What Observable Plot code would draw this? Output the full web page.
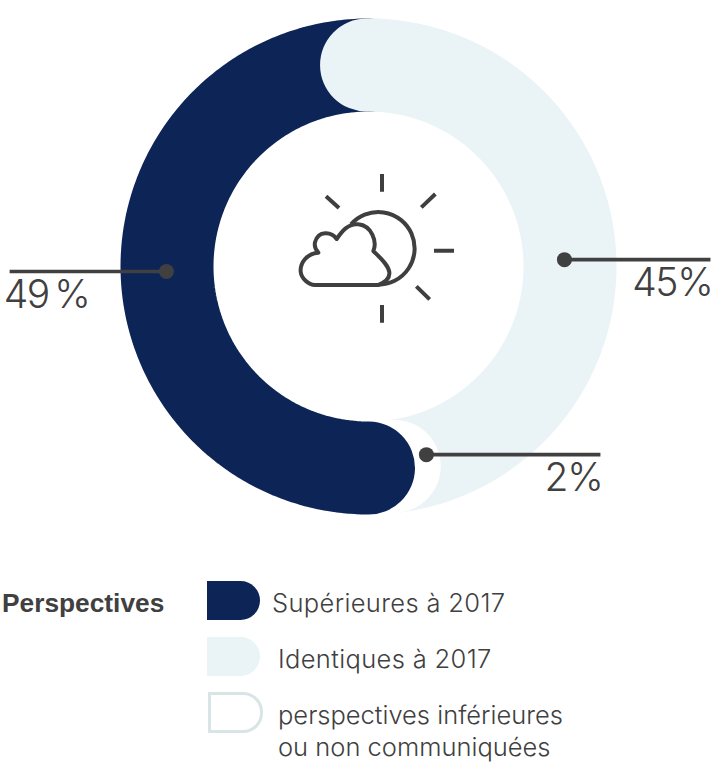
<!DOCTYPE html>
<html lang="fr">
<head>
<meta charset="utf-8">
<script src="https://cdn.jsdelivr.net/npm/d3@7"></script>
<script src="https://cdn.jsdelivr.net/npm/@observablehq/plot@0.6"></script>
<style>
  html,body{margin:0;padding:0;background:#fff;}
  #page{position:relative;width:716px;height:766px;overflow:hidden;font-family:"Inter","Liberation Sans",sans-serif;color:#404040;}
  #legend{position:absolute;left:0;top:560px;width:716px;height:206px;}
  #legend .t{position:absolute;white-space:pre;font-weight:300;font-size:25.5px;line-height:32px;}
  #legend .title{position:absolute;left:2px;top:27px;font:bold 26.3px/32px "Liberation Sans",sans-serif;color:#404040;}
  #legend .sw{position:absolute;box-sizing:border-box;border-radius:0 20px 20px 0;}
</style>
</head>
<body>
<div id="page"><div id="chart"></div><div id="legend"></div></div>
<script>
const categories = ["Supérieures à 2017", "Identiques à 2017", "perspectives inférieures\nou non communiquées"];
const values = [49, 45, 2];
const valueLabels = ["49 %", "45%", "2%"];
const colors = ["#0d2556", "#eaf3f6", "#ffffff"];
const legendTitle = "Perspectives";
const leaderAngles = [-91.4, 88, 162.9];
const leaderRadii = [1.003, 0.973, 0.977];
const leaderEnds = [-1.781, 1.697, 1.151];
const labelAnchors = ["start", "end", "end"];
const labelDx = [-6, 2, 2];

const width = 716, height = 560, ringPx = 201.5, cx = 368, cy = 266, dark = "#404040";
const degPerUnit = 360 / (2 * values[0]);

function arc(fromUnit, toUnit) {
  const n = 120;
  return d3.range(n + 1).map(i => {
    const a = (fromUnit + (toUnit - fromUnit) * i / n) * degPerUnit * Math.PI / 180;
    return {x: Math.sin(a), y: -Math.cos(a)};
  });
}
const ring = (data, color) => Plot.line(data, {x: "x", y: "y", stroke: color, strokeWidth: 93, strokeLinecap: "round", strokeLinejoin: "round", curve: "linear"});

const leaders = values.map((v, i) => {
  const a = leaderAngles[i] * Math.PI / 180;
  const x = leaderRadii[i] * Math.sin(a), y = -leaderRadii[i] * Math.cos(a);
  return {x, y, xe: leaderEnds[i], label: valueLabels[i], anchor: labelAnchors[i], dx: labelDx[i]};
});

function weatherIcon(index, {x, y}) {
  const g = d3.create("svg:g")
    .attr("transform", `translate(${x(0) - 78},${y(0) - 101}) scale(${1 / 3})`)
    .attr("fill", "none").attr("stroke", "#3f3f3f").attr("stroke-width", 12);
  g.append("path").attr("d", "M276 27V80M276 420V473M432 257H492M108 94L147 129M436 87L394 127M379 364L419 403");
  g.append("path").attr("d", "M183 178A109 109 0 1 1 265 359");
  g.append("path").attr("stroke-linejoin", "round")
    .attr("d", "M75 360H265C285 352 300 340 298 322C296 300 270 278 250 258C262 230 245 182 205 178C175 174 155 200 140 222C125 200 85 195 75 232C72 245 78 255 85 263C50 265 30 295 32 320C34 340 55 360 75 360Z");
  return g.node();
}

const plot = Plot.plot({
  width, height, margin: 0,
  x: {domain: [-cx / ringPx, (width - cx) / ringPx], range: [0, width], axis: null},
  y: {domain: [-cy / ringPx, (height - cy) / ringPx], range: [0, height], axis: null},
  style: {background: "transparent", fontFamily: "Inter, 'Liberation Sans', sans-serif"},
  marks: [
    ring(arc(0, values[1] + values[2] - 0.2), colors[1]),
    ring(arc(values[1] + values[2], values[0]), colors[2]),
    ring(arc(0, -values[0]), colors[0]),
    ring(arc(-0.15, 1), colors[1]),
    weatherIcon,
    Plot.link(leaders, {x1: "x", y1: "y", x2: "xe", y2: "y", stroke: dark, strokeWidth: 3.6}),
    Plot.dot(leaders, {x: "x", y: "y", r: 7.5, fill: dark}),
    ...leaders.map(d => Plot.text([d], {x: "xe", y: "y", text: "label", textAnchor: d.anchor, dx: d.dx, dy: 24, fontSize: 39, fontWeight: 300, fill: dark}))
  ]
});
d3.select(plot).selectAll("text").style("letter-spacing", "-1.3px").style("word-spacing", "-4.5px");
document.getElementById("chart").appendChild(plot);

const legend = d3.select("#legend");
legend.append("div").attr("class", "title").text(legendTitle);
const swatchTops = [21, 77, 132], swatchHeights = [39, 39, 41], swatchWidths = [53, 53, 55];
const textLefts = [272, 278, 278], textTops = [27, 83, 139], textTracking = [0.35, 0.35, 0];
categories.forEach((c, i) => {
  const s = legend.append("div").attr("class", "sw")
    .style("left", (i === 2 ? 208 : 207) + "px").style("top", swatchTops[i] + "px")
    .style("width", swatchWidths[i] + "px").style("height", swatchHeights[i] + "px");
  if (i < 2) s.style("background", colors[i]);
  else s.style("border", "3px solid #d9e4e6");
  legend.append("div").attr("class", "t").style("left", textLefts[i] + "px").style("top", textTops[i] + "px")
    .style("letter-spacing", textTracking[i] + "px").text(c);
});
</script>
</body>
</html>
